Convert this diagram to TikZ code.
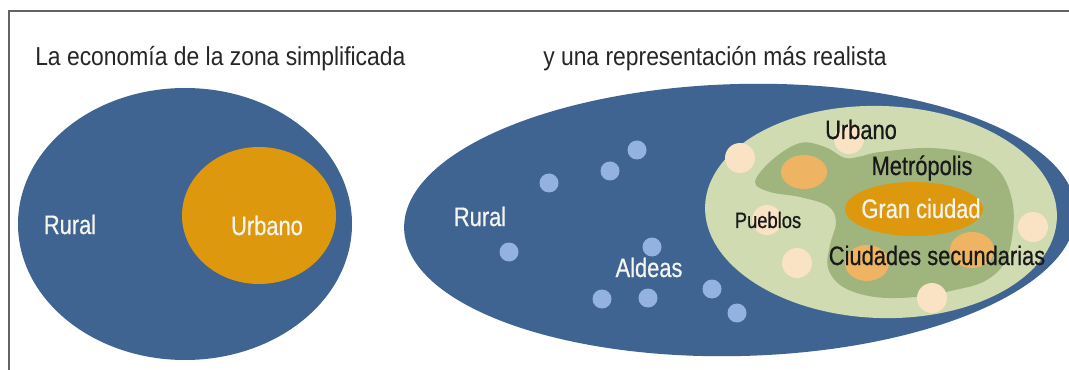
\documentclass[tikz,border=0pt]{standalone}
\usepackage{fontspec}
\newfontfamily\cf[FakeStretch=0.88]{Liberation Sans}
\newfontfamily\lf[FakeStretch=0.82,FakeBold=0.6]{Liberation Sans}
\definecolor{ruralblue}{RGB}{63,100,145}
\definecolor{urborange}{RGB}{222,152,14}
\definecolor{lightgreen}{RGB}{208,219,178}
\definecolor{darkgreen}{RGB}{160,180,126}
\definecolor{peach}{RGB}{250,226,196}
\definecolor{lorange}{RGB}{238,180,100}
\definecolor{dotblue}{RGB}{148,178,224}
\definecolor{framegray}{RGB}{100,100,100}
\definecolor{offwhite}{RGB}{245,245,240}
\tikzset{
  titletext/.style={font=\cf\fontsize{19.5}{22}\selectfont, text=black!85, inner sep=0pt, anchor=base west},
  whitelabel/.style={font=\lf\fontsize{20}{22}\selectfont, text=offwhite, inner sep=0pt, anchor=base},
  blacklabel/.style={font=\lf\fontsize{20}{22}\selectfont, text=black!90, inner sep=0pt, anchor=base},
  smalllabel/.style={font=\lf\fontsize{16.8}{19}\selectfont, text=black!90, inner sep=0pt, anchor=base},
  dot/.style={fill=dotblue},
  pueblo/.style={fill=peach},
  ciudad/.style={fill=lorange},
}
\begin{document}
\begin{tikzpicture}[x=0.75pt,y=-0.75pt]
\useasboundingbox (0,0) rectangle (1069,370);
\clip (0,0) rectangle (1069,370);
\fill[white] (0,0) rectangle (1069,370);
% frame
\draw[framegray, line width=1.1pt] (9,370) -- (9,11) -- (1069,11);
% titles
\node[titletext] (t1) at (35,66) {La economía de la zona simplificada};
\node[titletext] (t2) at (543,66) {y una representación más realista};
% left diagram
\fill[ruralblue] (185,224) ellipse [x radius=167, y radius=136];
\fill[urborange] (259,215.5) ellipse [x radius=77, y radius=68.5];
\node[whitelabel] (lrural) at (70,234) {Rural};
\node[whitelabel] (lurbano) at (267,235) {Urbano};
% right diagram
\fill[ruralblue, rotate around={1.5:(740,220)}] (740,220) ellipse [x radius=336, y radius=136];
\foreach \p in {(549,183),(610,171),(637,150),(509,252),(652,247),(602,299),(648,298),(712,289),(737,313)}
  \fill[dot] \p circle [radius=9.5];
\fill[lightgreen, rotate around={-2:(881,212)}] (881,212) ellipse [x radius=176, y radius=106];
\fill[darkgreen] plot[smooth cycle, tension=0.6] coordinates {
  (862,156) (880,152) (930,148) (975,155) (1000,172) (1012,200) (1013,230)
  (1005,262) (985,281) (955,290) (915,297) (875,297) (843,287) (828,268)
  (830,245) (836,222) (828,206) (800,197) (770,192) (755,182) (772,160)
  (800,143) (825,147) (845,158)};
\foreach \p in {(740,158),(849,139),(767,220),(797,263),(932,298),(1033,227)}
  \fill[pueblo] \p circle [radius=15];
\fill[ciudad] (804,172) ellipse [x radius=23, y radius=17];
\fill[ciudad] (867,263) ellipse [x radius=22, y radius=18];
\fill[ciudad] (972,250) ellipse [x radius=22, y radius=18];
\fill[urborange] (914,209) ellipse [x radius=69, y radius=27];
\node[whitelabel] (rrural) at (480,226) {Rural};
\node[whitelabel] (aldeas) at (649,277) {Aldeas};
\node[blacklabel] (rurbano) at (861,139) {Urbano};
\node[blacklabel] (metro) at (922,175) {Metrópolis};
\node[whitelabel] (gran) at (921,218) {Gran ciudad};
\node[smalllabel] (pueblos) at (768,228) {Pueblos};
\node[blacklabel] (ciudades) at (937,265) {Ciudades secundarias};
\end{tikzpicture}
\end{document}
